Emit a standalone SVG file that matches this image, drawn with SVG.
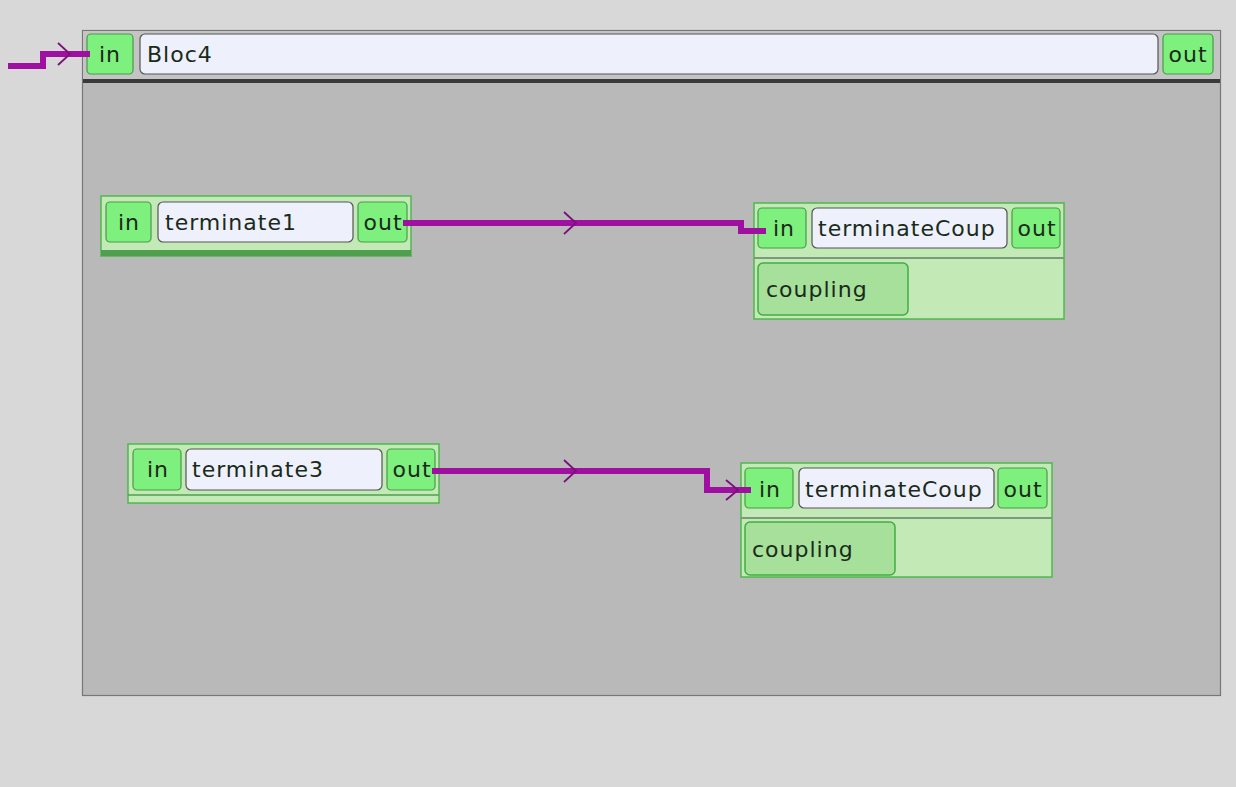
<svg xmlns="http://www.w3.org/2000/svg" width="1236" height="787" viewBox="0 0 1236 787">
<style>
.port{fill:#7ef07e;stroke:#4a9a4a;stroke-width:1.2}
.name{fill:#eef0fb;stroke:#555;stroke-width:1.2}
.node{fill:#c2e9b6;stroke:#4fb84f;stroke-width:1.5}
.cpl{fill:#a6e09a;stroke:#3fae3f;stroke-width:1.5}
.t{font-family:"DejaVu Sans",sans-serif;font-size:22px;letter-spacing:1px;fill:#1a2a1a}
.wire{fill:none;stroke:#a010a0;stroke-width:6}
.chev{fill:none;stroke:#7a107a;stroke-width:1.8}
</style>
<rect width="1236" height="787" fill="#d8d8d8"/>
<g id="bloc4">
<rect x="82.5" y="30.5" width="1138" height="665" fill="#b9b9b9" stroke="#777" stroke-width="1.2"/>
<rect x="83" y="31" width="1137" height="50" fill="#c4c4c4"/>
<rect x="83" y="79" width="1137" height="4" fill="#3a3a3a"/>
<rect class="port" x="87" y="34" width="46" height="40" rx="4"/>
<text class="t" x="110" y="62" text-anchor="middle">in</text>
<rect class="name" x="140" y="34" width="1018" height="40" rx="5"/>
<text class="t" x="147" y="62">Bloc4</text>
<rect class="port" x="1163" y="34" width="50" height="40" rx="4"/>
<text class="t" x="1188" y="62" text-anchor="middle">out</text>
</g>
<g id="terminate1">
<rect class="node" x="101" y="196" width="310" height="60"/>
<rect x="101" y="250" width="310" height="6" fill="#4f9f4f"/>
<rect class="port" x="106" y="202" width="45" height="40" rx="4"/>
<text class="t" x="129" y="230" text-anchor="middle">in</text>
<rect class="name" x="158" y="202" width="195" height="40" rx="5"/>
<text class="t" x="165" y="230">terminate1</text>
<rect class="port" x="358" y="202" width="49" height="40" rx="4"/>
<text class="t" x="383" y="230" text-anchor="middle">out</text>
</g>
<g id="terminateCoup1">
<rect class="node" x="754" y="203" width="310" height="116"/>
<line x1="754" y1="258" x2="1064" y2="258" stroke="#7a9a7a" stroke-width="2"/>
<rect class="port" x="758" y="208" width="48" height="40" rx="4"/>
<text class="t" x="784" y="236" text-anchor="middle">in</text>
<rect class="name" x="812" y="208" width="195" height="40" rx="5"/>
<text class="t" x="818" y="236">terminateCoup</text>
<rect class="port" x="1012" y="208" width="48" height="40" rx="4"/>
<text class="t" x="1037" y="236" text-anchor="middle">out</text>
<rect class="cpl" x="758" y="263" width="150" height="52" rx="5"/>
<text class="t" x="766" y="297">coupling</text>
</g>
<g id="terminate3">
<rect class="node" x="128" y="444" width="311" height="59"/>
<line x1="128" y1="495" x2="439" y2="495" stroke="#4f9f4f" stroke-width="1.5"/>
<rect class="port" x="133" y="449" width="48" height="41" rx="4"/>
<text class="t" x="158" y="477" text-anchor="middle">in</text>
<rect class="name" x="186" y="449" width="196" height="41" rx="5"/>
<text class="t" x="192" y="477">terminate3</text>
<rect class="port" x="387" y="449" width="48" height="41" rx="4"/>
<text class="t" x="412" y="477" text-anchor="middle">out</text>
</g>
<g id="terminateCoup2">
<rect class="node" x="741" y="463" width="311" height="114"/>
<line x1="741" y1="518" x2="1052" y2="518" stroke="#7a9a7a" stroke-width="2"/>
<rect class="port" x="745" y="468" width="48" height="40" rx="4"/>
<text class="t" x="770" y="497" text-anchor="middle">in</text>
<rect class="name" x="799" y="468" width="195" height="40" rx="5"/>
<text class="t" x="805" y="497">terminateCoup</text>
<rect class="port" x="998" y="468" width="49" height="40" rx="4"/>
<text class="t" x="1023" y="497" text-anchor="middle">out</text>
<rect class="cpl" x="745" y="522" width="150" height="53" rx="5"/>
<text class="t" x="752" y="557">coupling</text>
</g>
<g id="connectors">
<path class="wire" d="M8 66 H43 V54 H90"/>
<path class="chev" d="M58 43 L70 54 L58 65"/>
<path class="wire" d="M403 223 H741 V231 H766"/>
<path class="chev" d="M564 212 L576 223 L564 234"/>
<path class="wire" d="M432 471 H707 V490 H751"/>
<path class="chev" d="M564 460 L576 471 L564 482"/>
<path class="chev" d="M726 480 L738 490 L726 500"/>
</g>
</svg>
